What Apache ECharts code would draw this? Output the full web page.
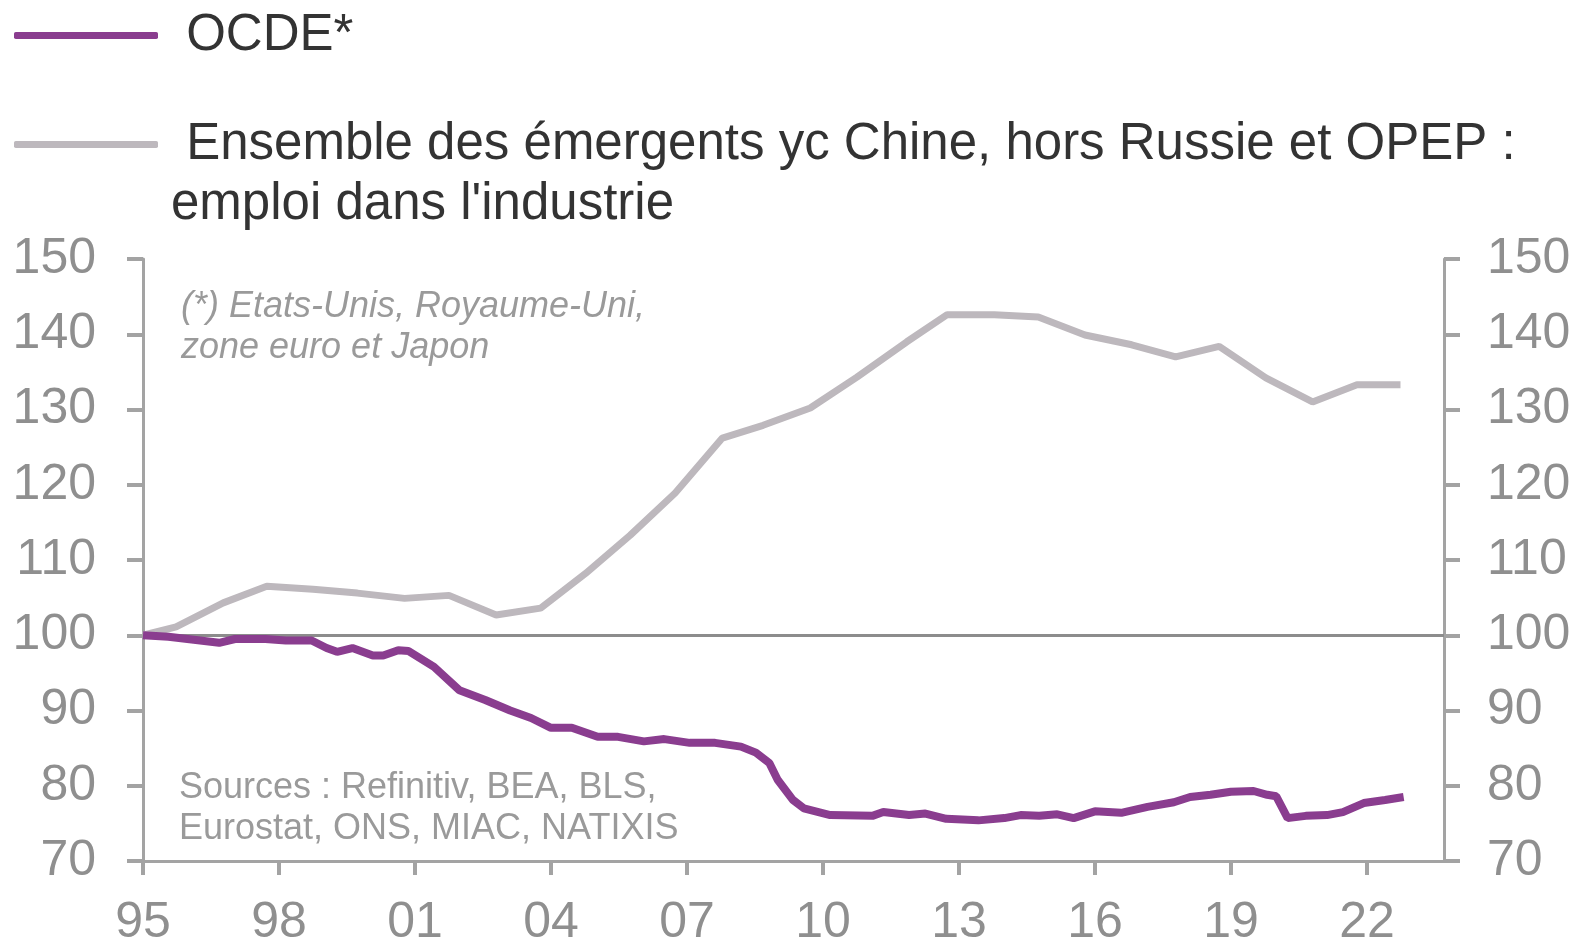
<!DOCTYPE html>
<html>
<head>
<meta charset="utf-8">
<script src="https://cdn.jsdelivr.net/npm/echarts@6/dist/echarts.min.js"></script>
<style>
  html, body { margin: 0; padding: 0; background: #fff; }
  #container { width: 1578px; height: 943px; }
</style>
</head>
<body>
<div id="container"></div>
<script>
// x ticks (years), labels shown as 2 digits
let yearTicks = [1995, 1998, 2001, 2004, 2007, 2010, 2013, 2016, 2019, 2022];

// OCDE* : emploi industriel, base 100 en 1995
let ocdeYears = [1995.0, 1995.56, 1996.12, 1996.68, 1997.03, 1997.7, 1998.15, 1998.72, 1999.05, 1999.28,
  1999.62, 2000.07, 2000.3, 2000.63, 2000.86, 2001.42, 2001.98, 2002.55, 2003.1, 2003.56,
  2004.0, 2004.46, 2005.03, 2005.48, 2006.05, 2006.5, 2007.06, 2007.62, 2008.19, 2008.52,
  2008.82, 2009.0, 2009.34, 2009.58, 2010.16, 2011.09, 2011.33, 2011.9, 2012.26, 2012.72,
  2013.43, 2014.0, 2014.36, 2014.77, 2015.17, 2015.53, 2016.0, 2016.58, 2017.16, 2017.74,
  2018.1, 2018.55, 2019.0, 2019.5, 2019.8, 2020.0, 2020.25, 2020.65, 2021.12, 2021.47,
  2021.93, 2022.4, 2022.81];
let ocdeValues = [100, 99.8, 99.4, 99.0, 99.5, 99.5, 99.3, 99.3, 98.3, 97.8,
  98.3, 97.3, 97.3, 98.0, 97.9, 95.8, 92.7, 91.4, 90.0, 89.0,
  87.7, 87.7, 86.5, 86.5, 85.9, 86.2, 85.7, 85.7, 85.2, 84.4,
  83.0, 80.8, 78.1, 77.0, 76.1, 76.0, 76.5, 76.1, 76.3, 75.6,
  75.4, 75.7, 76.1, 76.0, 76.2, 75.7, 76.6, 76.4, 77.2, 77.8,
  78.5, 78.8, 79.2, 79.3, 78.8, 78.6, 75.7, 76.0, 76.1, 76.5,
  77.7, 78.1, 78.5];

// Emergents yc Chine, hors Russie et OPEP
let emergYears = [1995.0, 1995.73, 1996.77, 1997.73, 1998.75, 1999.73, 2000.77, 2001.75, 2002.79, 2003.77,
  2004.76, 2005.75, 2006.74, 2007.78, 2008.68, 2009.72, 2010.75, 2011.85, 2012.74, 2013.78,
  2014.75, 2015.78, 2016.81, 2017.78, 2018.74, 2019.77, 2020.8, 2021.78, 2022.74];
let emergValues = [100, 101.1, 104.3, 106.5, 106.1, 105.6, 104.9, 105.3, 102.7, 103.6,
  108.2, 113.3, 118.9, 126.2, 127.9, 130.2, 134.3, 139.0, 142.6, 142.6,
  142.3, 139.9, 138.6, 137.0, 138.4, 134.2, 131.0, 133.3, 133.3];

let ocdeName = "OCDE*";
let emergName = "Ensemble des émergents yc Chine, hors Russie et OPEP :";
let emergName2 = "emploi dans l'industrie";

let ocdeData = ocdeYears.map((y, i) => [y, ocdeValues[i]]);
let emergData = emergYears.map((y, i) => [y, emergValues[i]]);

let font = "'Liberation Sans', Arial, sans-serif";
let axisGray = "#a3a3a3";
let labelGray = "#8f8f8f";

let dom = document.getElementById("container");
let myChart = echarts.init(dom, null, { renderer: "canvas" });

let yAxisBase = {
  type: "value",
  min: 70,
  max: 150,
  interval: 10,
  splitLine: { show: false },
  axisLine: { show: true, lineStyle: { color: axisGray, width: 3 } },
  axisTick: { show: true, length: 16, lineStyle: { color: axisGray, width: 4 } },
  axisLabel: { color: labelGray, fontSize: 50, fontFamily: font },
};

let legendBase = {
  left: 14,
  padding: 0,
  icon: "roundRect",
  itemWidth: 144,
  itemHeight: 7,
  formatter: (n) => " " + n,
  textStyle: { fontSize: 51, color: "#333", fontFamily: font, padding: [0, 0, 0, 9] },
};

let option = {
  animation: false,
  backgroundColor: "#fff",
  textStyle: { fontFamily: font },
  legend: [
    Object.assign({}, legendBase, { data: [ocdeName], top: 10 }),
    Object.assign({}, legendBase, { data: [emergName], top: 119 }),
  ],
  grid: {
    left: 143,
    right: 134,
    top: 259,
    bottom: 82,
    containLabel: false,
    outerBoundsMode: "none",
  },
  xAxis: {
    type: "value",
    min: 1995,
    max: 2023.7,
    interval: 3,
    splitLine: { show: false },
    axisLine: { show: true, lineStyle: { color: axisGray, width: 3 } },
    axisTick: {
      show: true,
      length: 14,
      customValues: yearTicks,
      lineStyle: { color: axisGray, width: 4 },
    },
    axisLabel: {
      customValues: yearTicks,
      color: labelGray,
      fontSize: 50,
      fontFamily: font,
      margin: 37,
      formatter: (v) => String(Math.round(v) % 100).padStart(2, "0"),
    },
  },
  yAxis: [
    Object.assign({}, yAxisBase, { position: "left", axisLabel: Object.assign({}, yAxisBase.axisLabel, { margin: 47 }) }),
    Object.assign({}, yAxisBase, { position: "right", axisLabel: Object.assign({}, yAxisBase.axisLabel, { margin: 43 }) }),
  ],
  graphic: [
    {
      type: "text",
      left: 171,
      top: 179,
      style: {
        text: emergName2,
        font: "51px " + font,
        fill: "#333",
      },
    },
    {
      type: "text",
      left: 181,
      top: 286,
      style: {
        text: "(*) Etats-Unis, Royaume-Uni,\nzone euro et Japon",
        font: "italic 36px " + font,
        lineHeight: 41,
        fill: "#9a9a9a",
      },
    },
    {
      type: "text",
      left: 179,
      top: 768,
      style: {
        text: "Sources : Refinitiv, BEA, BLS,\nEurostat, ONS, MIAC, NATIXIS",
        font: "36px " + font,
        lineHeight: 41,
        fill: "#9a9a9a",
      },
    },
  ],
  series: [
    {
      name: emergName,
      type: "line",
      data: emergData,
      showSymbol: false,
      color: "#bdb8bd",
      lineStyle: { color: "#bdb8bd", width: 7 },
      z: 2,
    },
    {
      name: ocdeName,
      type: "line",
      data: ocdeData,
      showSymbol: false,
      color: "#8a3d8f",
      lineStyle: { color: "#8a3d8f", width: 8 },
      z: 3,
      markLine: {
        silent: true,
        symbol: ["none", "none"],
        label: { show: false },
        lineStyle: { type: "solid", color: "#8c8c8c", width: 3 },
        data: [{ yAxis: 100 }],
        z: 1,
      },
    },
  ],
};

myChart.setOption(option);
window.addEventListener("resize", myChart.resize);
</script>
</body>
</html>
